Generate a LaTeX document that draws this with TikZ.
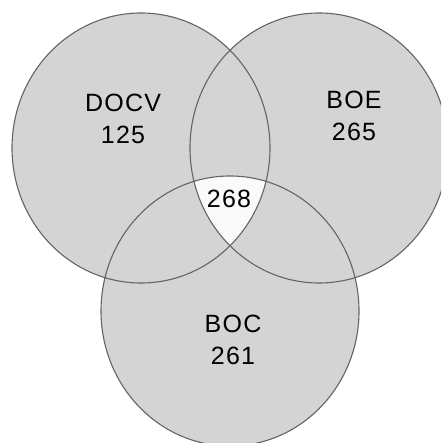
\documentclass[tikz,border=0pt]{standalone}
\usepackage{fontspec}
\setmainfont{Liberation Sans}
\newfontfamily\labelfont[LetterSpace=5]{Liberation Sans}
\definecolor{setfill}{RGB}{212,212,212}
\definecolor{setline}{RGB}{100,100,100}
\definecolor{corefill}{RGB}{250,250,250}
\tikzset{
  setshape/.style={x radius=129pt, y radius=135pt},
  setlabel/.style={align=center, inner sep=0pt, font=\labelfont\fontsize{25}{32}\selectfont, text=black},
  outline/.style={draw=setline, line width=1.1pt},
}
\begin{document}
\begin{tikzpicture}[x=1pt, y=-1pt]
\useasboundingbox (0,0) rectangle (441,443);
\clip (0,0) rectangle (441,443);
\coordinate (cL) at (141,148);
\coordinate (cR) at (319,148);
\coordinate (cB) at (230,311);
% fills
\fill[setfill] (cL) ellipse [setshape];
\fill[setfill] (cR) ellipse [setshape];
\fill[setfill] (cB) ellipse [setshape];
\begin{scope}
  \clip (cL) ellipse [setshape];
  \clip (cR) ellipse [setshape];
  \fill[corefill] (cB) ellipse [setshape];
\end{scope}
% outlines
\draw[outline] (cL) ellipse [setshape];
\draw[outline] (cR) ellipse [setshape];
\draw[outline] (cB) ellipse [setshape];
% labels
\node[setlabel] (docv) at (123,119) {DOCV\\125};
\node[setlabel] (boe) at (354,116) {BOE\\265};
\node[setlabel] (boc) at (233,340) {BOC\\261};
\node[setlabel] (core) at (229,199) {268};
\end{tikzpicture}
\end{document}
